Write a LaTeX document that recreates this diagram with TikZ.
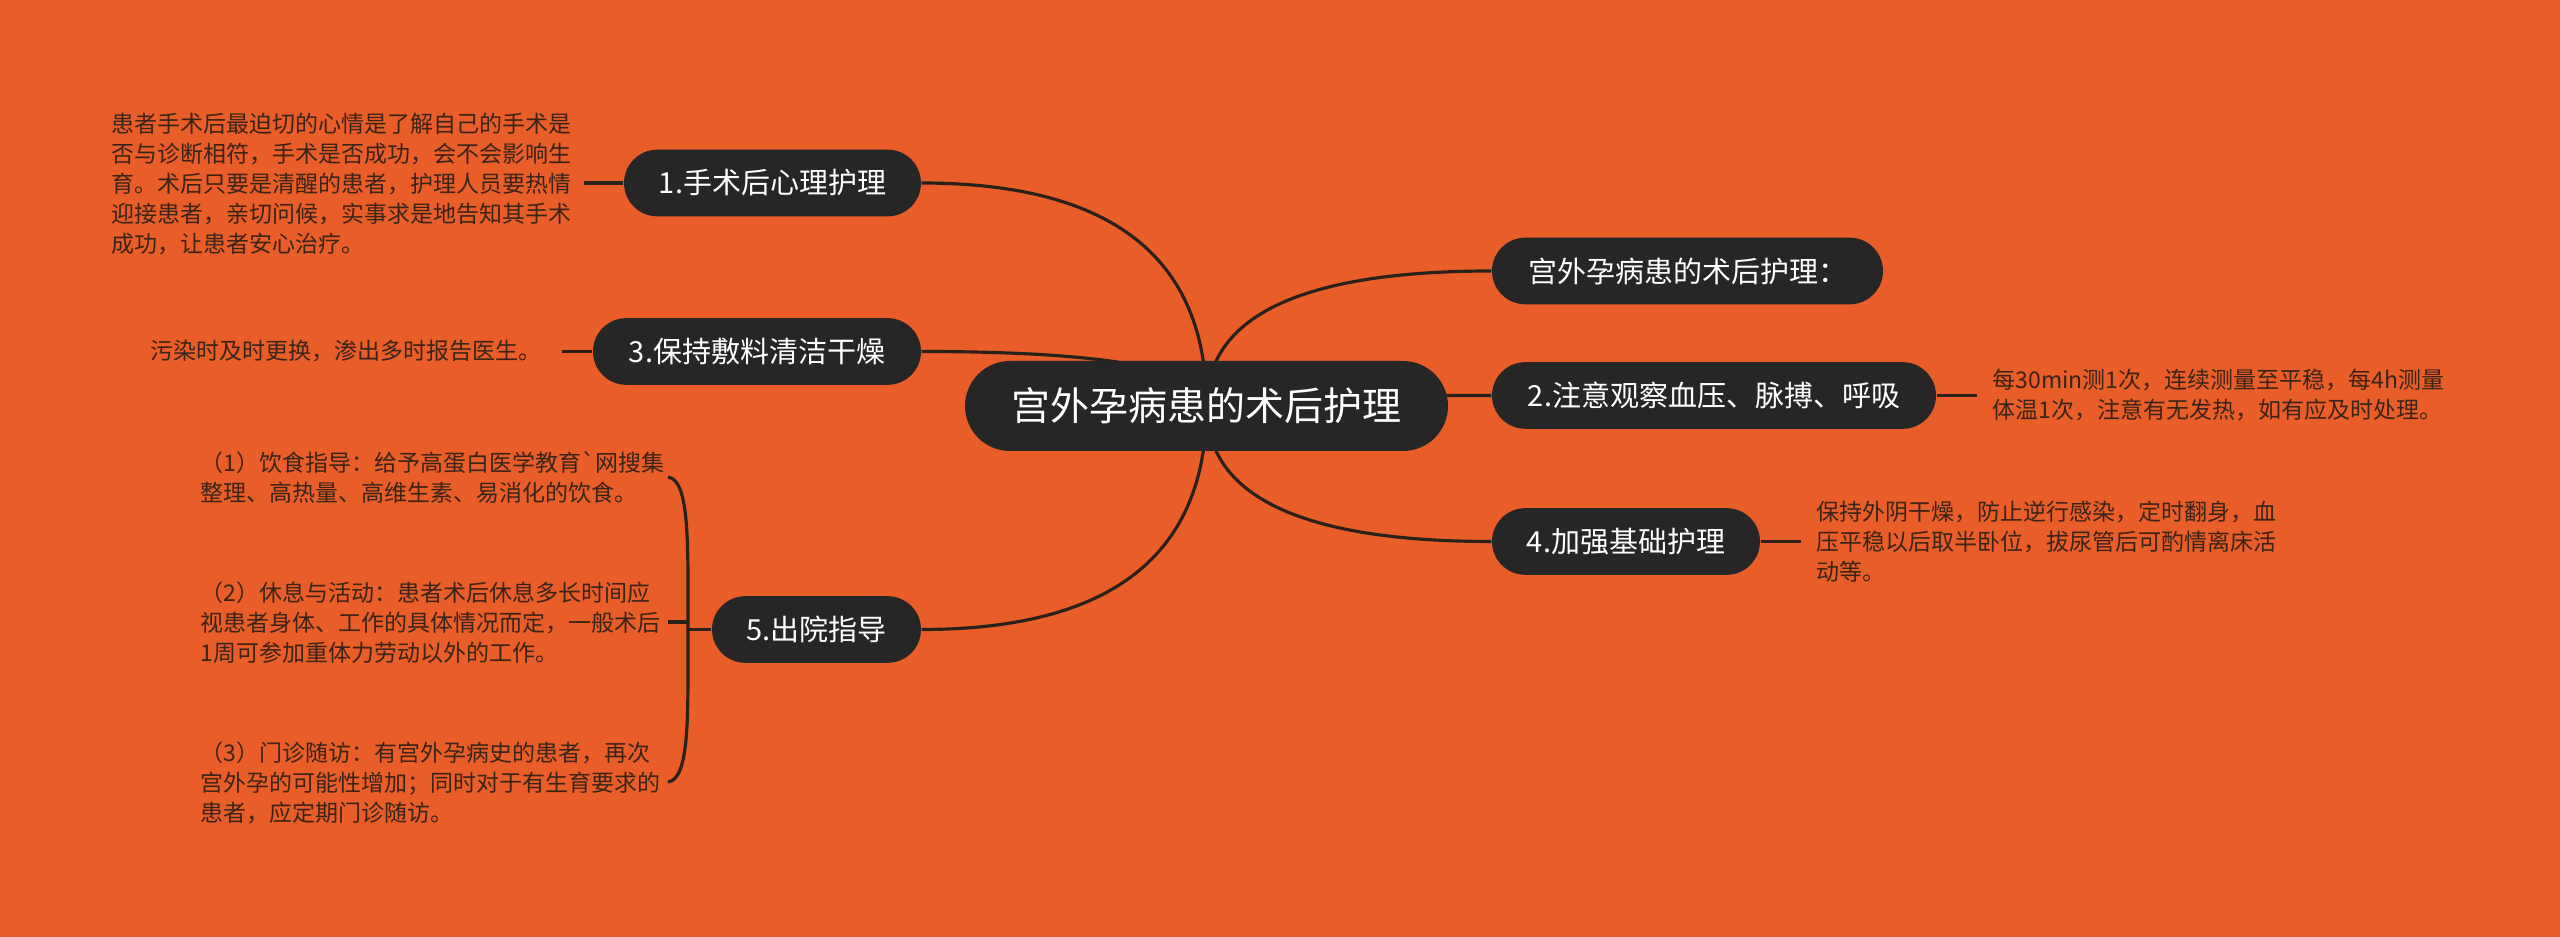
\documentclass[tikz,border=0pt]{standalone}
\usepackage{fontspec}
\setmainfont{Noto Sans CJK SC}[Ligatures=TeXOff]
\usetikzlibrary{shapes.misc,calc}
\definecolor{bgc}{HTML}{E85D28}
\definecolor{nodec}{HTML}{262626}
\definecolor{linec}{HTML}{2A201C}
\definecolor{txtc}{HTML}{3A2418}
\pgfdeclarelayer{bg}
\pgfsetlayers{bg,main}
\begin{document}
\begin{tikzpicture}[x=0.3pt,y=-0.3pt,
  mnode/.style={rounded rectangle, fill=nodec, text=white, inner xsep=0pt,
    minimum height=20pt, font=\fontsize{8.7pt}{10pt}\selectfont},
  rootnode/.style={rounded rectangle, fill=nodec, text=white, inner xsep=0pt,
    minimum height=27pt, minimum width=144.9pt, font=\fontsize{11.7pt}{13pt}\selectfont},
  tnode/.style={text=txtc, font=\fontsize{6.9pt}{9pt}\selectfont, align=left,
    inner sep=0pt, anchor=west},
  conn/.style={draw=linec, line width=0.95pt}]
\useasboundingbox (0,0) rectangle (2560,937);
\begin{pgfonlayer}{bg}
\fill[bgc] (0,0) rectangle (2560,937);
\end{pgfonlayer}

% main nodes
\node[rootnode] (root) at (1206.5,406) {宫外孕病患的术后护理};
\node[mnode, minimum width=89.1pt] (n1) at (772.5,183) {1.手术后心理护理};
\node[mnode, minimum width=98.4pt] (n3) at (757,351.5) {3.保持敷料清洁干燥};
\node[mnode, minimum width=62.7pt] (n5) at (816.5,629.5) {5.出院指导};
\node[mnode, minimum width=117.3pt] (r1) at (1687.5,271) {宫外孕病患的术后护理：};
\node[mnode, minimum width=133.2pt] (n2) at (1714,395.5) {2.注意观察血压、脉搏、呼吸};
\node[mnode, minimum width=80.4pt] (n4) at (1626,541.5) {4.加强基础护理};

% text nodes
\node[tnode] (t1) at (111,184) {患者手术后最迫切的心情是了解自己的手术是\\否与诊断相符，手术是否成功，会不会影响生\\育。术后只要是清醒的患者，护理人员要热情\\迎接患者，亲切问候，实事求是地告知其手术\\成功，让患者安心治疗。};
\node[tnode] (t3) at (150,351.5) {污染时及时更换，渗出多时报告医生。};
\node[tnode] (p1) at (200,477) {（1）饮食指导：给予高蛋白医学教育`网搜集\\整理、高热量、高维生素、易消化的饮食。};
\node[tnode] (p2) at (200,623) {（2）休息与活动：患者术后休息多长时间应\\视患者身体、工作的具体情况而定，一般术后\\1周可参加重体力劳动以外的工作。};
\node[tnode] (p3) at (200,783) {（3）门诊随访：有宫外孕病史的患者，再次\\宫外孕的可能性增加；同时对于有生育要求的\\患者，应定期门诊随访。};
\node[tnode] (t2) at (1992,395.5) {每30min测1次，连续测量至平稳，每4h测量\\体温1次，注意有无发热，如有应及时处理。};
\node[tnode] (t4) at (1816,541.5) {保持外阴干燥，防止逆行感染，定时翻身，血\\压平稳以后取半卧位，拔尿管后可酌情离床活\\动等。};

% bracket points
\coordinate (bt) at (668,477);
\coordinate (bm) at (688,629.5);
\coordinate (bb) at (668,782);
\coordinate (tk) at (668,622);
\coordinate (tkb) at (688,622);

\begin{pgfonlayer}{bg}
% curves from root
\draw[conn] (root.center) .. controls ($(root.center)!2/3!(root.center|-n1.east)$) and ($(n1.east)!2/3!(root.center|-n1.east)$) .. (n1.east);
\draw[conn] (root.center) .. controls ($(root.center)!2/3!(root.center|-n3.east)$) and ($(n3.east)!2/3!(root.center|-n3.east)$) .. (n3.east);
\draw[conn] (root.center) .. controls ($(root.center)!2/3!(root.center|-n5.east)$) and ($(n5.east)!2/3!(root.center|-n5.east)$) .. (n5.east);
\draw[conn] (root.center) .. controls ($(root.center)!2/3!(root.center|-r1.west)$) and ($(r1.west)!2/3!(root.center|-r1.west)$) .. (r1.west);
\draw[conn] (root.center) .. controls ($(root.center)!2/3!(root.center|-n2.west)$) and ($(n2.west)!2/3!(root.center|-n2.west)$) .. (n2.west);
\draw[conn] (root.center) .. controls ($(root.center)!2/3!(root.center|-n4.west)$) and ($(n4.west)!2/3!(root.center|-n4.west)$) .. (n4.west);
% leaf connectors
\draw[conn] (n1.west) -- ($(t1.east|-n1.west)+(12,0)$);
\draw[conn] (n3.west) -- ($(t3.east|-n3.west)+(20,0)$);
\draw[conn] (n2.east) -- ($(t2.west|-n2.east)+(-15,0)$);
\draw[conn] (n4.east) -- ($(t4.west|-n4.east)+(-15,0)$);
% bracket
\draw[conn] (n5.west) -- (bm);
\draw[conn] (bt) .. controls (690,480) and (688,545) .. (bm) .. controls (688,715) and (690,779) .. (bb);
\draw[conn] (tk) -- (tkb);
\end{pgfonlayer}
\end{tikzpicture}
\end{document}
